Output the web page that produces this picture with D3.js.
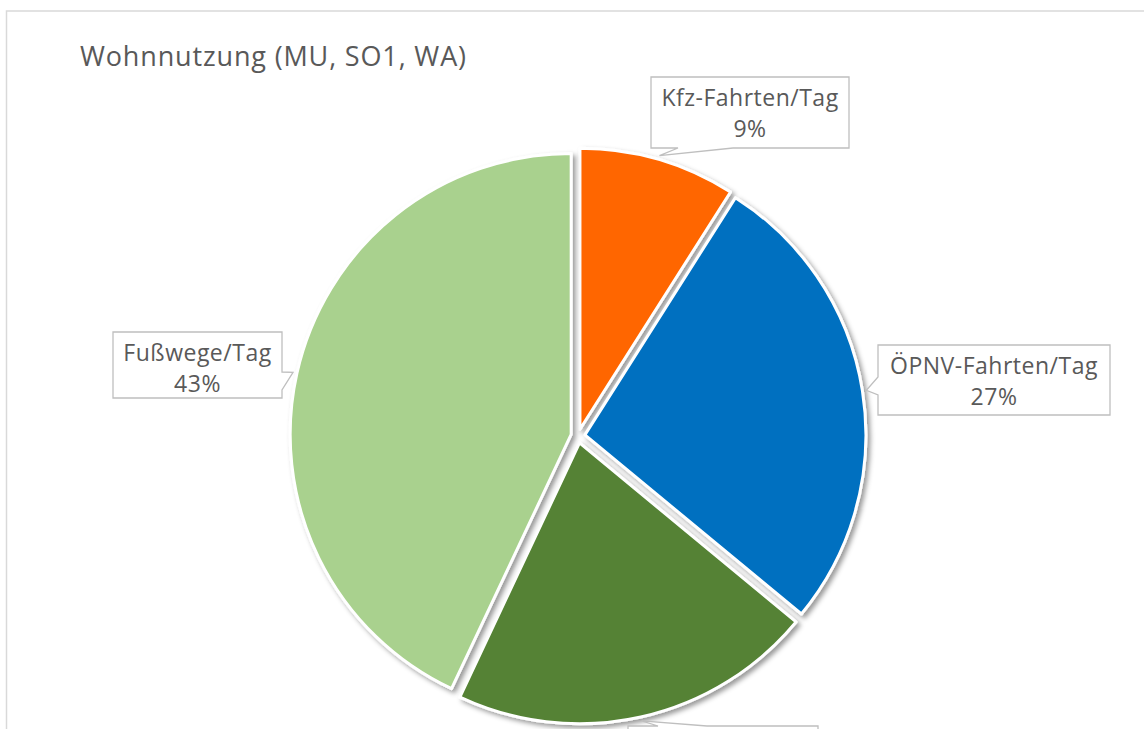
<!DOCTYPE html>
<html><head><meta charset="utf-8">
<script src="https://cdn.jsdelivr.net/npm/d3@7"></script>
<style>html,body{margin:0;padding:0;background:#fff;overflow:hidden}</style>
</head><body>
<svg id="chart" width="1144" height="729"></svg>
<script>
const title = "Wohnnutzung (MU, SO1, WA)";
const categories = ["Kfz-Fahrten/Tag", "ÖPNV-Fahrten/Tag", "Radfahrten/Tag", "Fußwege/Tag"];
const values = [9, 27, 21, 43];
const colors = ["#FF6600", "#0070C0", "#548235", "#A9D18E"];

// layout (not data)
const cx = 578, cy = 436, R = 281, explode = 7;
const boxes = [
  {x:651, y:77,  w:198, h:71, side:"bottom", a:678, b:733},
  {x:878, y:345, w:232, h:70, side:"left",   a:377, b:395},
  {x:628, y:726, w:190, h:70, side:"top",    a:658, b:707},
  {x:113, y:332, w:169, h:66, side:"right",  a:372, b:390}
];
const FONT = "'Open Sans', 'Noto Sans', sans-serif";

const svg = d3.select("#chart");
const defs = svg.append("defs");
const f = defs.append("filter").attr("id","sh").attr("x","-20%").attr("y","-20%").attr("width","140%").attr("height","140%");
f.append("feDropShadow").attr("dx",3).attr("dy",3).attr("stdDeviation",2.5)
 .attr("flood-color","#000").attr("flood-opacity",0.4);

// outer border
svg.append("rect").attr("x",6.5).attr("y",11).attr("width",1200).attr("height",800)
  .attr("fill","none").attr("stroke","#d9d9d9").attr("stroke-width",1.5);

svg.append("text").attr("x",80).attr("y",66).text(title)
  .attr("font-family",FONT).attr("font-size",27).attr("letter-spacing",0.85)
  .attr("fill","#595959");

const pie = d3.pie().sort(null).value(d=>d)(values);
const arc = d3.arc().innerRadius(0).outerRadius(R);
const g = svg.append("g").attr("transform",`translate(${cx},${cy})`);

g.selectAll("path.slice").data(pie).join("path").attr("class","slice")
  .attr("transform", d => {
    const m = (d.startAngle + d.endAngle)/2;
    return `translate(${explode*Math.sin(m)},${-explode*Math.cos(m)})`;
  })
  .attr("d", arc)
  .attr("fill",(d,i)=>colors[i])
  .attr("stroke","#fff").attr("stroke-width",3).attr("stroke-linejoin","round")
  .attr("filter","url(#sh)");

// callouts
pie.forEach((d,i)=>{
  const m = (d.startAngle + d.endAngle)/2;
  const rr = R + explode + 4;
  const tx = cx + rr*Math.sin(m), ty = cy - rr*Math.cos(m);
  const b = boxes[i];
  const x0=b.x, y0=b.y, x1=b.x+b.w, y1=b.y+b.h;
  let p;
  if (b.side==="bottom") p = `M${x0},${y0}H${x1}V${y1}H${b.b}L${tx},${ty}L${b.a},${y1}H${x0}Z`;
  else if (b.side==="top") p = `M${x0},${y0}H${b.a}L${tx},${ty}L${b.b},${y0}H${x1}V${y1}H${x0}Z`;
  else if (b.side==="left") p = `M${x0},${y0}H${x1}V${y1}H${x0}V${b.b}L${tx},${ty}L${x0},${b.a}Z`;
  else p = `M${x0},${y0}H${x1}V${b.a}L${tx},${ty}L${x1},${b.b}V${y1}H${x0}Z`;
  svg.append("path").attr("d",p).attr("fill","#fff").attr("stroke","#bfbfbf").attr("stroke-width",1.3);
  const t = svg.append("text").attr("text-anchor","middle")
    .attr("font-family",FONT).attr("font-size",23).attr("letter-spacing",0.5).attr("fill","#595959");
  t.append("tspan").attr("x",(x0+x1)/2).attr("y",y0+29).text(categories[i]);
  t.append("tspan").attr("x",(x0+x1)/2).attr("y",y0+60).text(values[i]+"%");
});
</script>
</body></html>
